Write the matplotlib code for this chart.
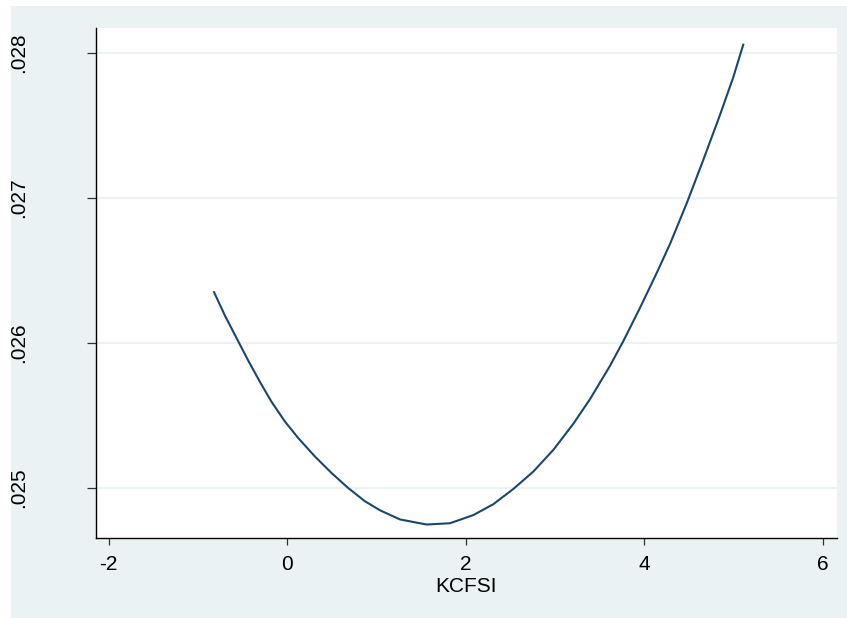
import matplotlib
matplotlib.use("Agg")
import matplotlib.pyplot as plt
from matplotlib.patches import Rectangle

# values
kcfsi = [-0.820, -0.697, -0.548, -0.436, -0.305, -0.174, -0.025, 0.124, 0.311,
         0.499, 0.685, 0.872, 1.040, 1.264, 1.563, 1.824, 2.085, 2.309, 2.533,
         2.757, 2.982, 3.206, 3.393, 3.617, 3.766, 3.953, 4.140, 4.289, 4.476,
         4.662, 4.849, 4.998, 5.110]
fitted = [0.026348, 0.026185, 0.026008, 0.025875, 0.025728, 0.025590, 0.025455,
          0.025341, 0.025214, 0.025099, 0.024996, 0.024905, 0.024843, 0.024780,
          0.024745, 0.024754, 0.024810, 0.024885, 0.024990, 0.025110, 0.025260,
          0.025440, 0.025610, 0.025840, 0.026010, 0.026240, 0.026480, 0.026680,
          0.026960, 0.027260, 0.027570, 0.027830, 0.028055]

xticks = [-2, 0, 2, 4, 6]
yticks = [0.025, 0.026, 0.027, 0.028]
ylabels = [".025", ".026", ".027", ".028"]

plt.rcParams['font.family'] = ['Liberation Sans', 'DejaVu Sans']
plt.rcParams['axes.unicode_minus'] = False

bg = "#EAF2F3"
fig = plt.figure(figsize=(8.47, 6.18), dpi=100)
fig.patches.append(Rectangle((11/847, 0), 1 - 11/847, 1 - 6/618,
                             transform=fig.transFigure, facecolor=bg,
                             edgecolor="none", zorder=-10))

ax = fig.add_axes([95.7/847, 1 - 538.3/618, (836.7 - 95.7)/847, (538.3 - 28)/618])
ax.set_facecolor("white")

ax.plot(kcfsi, fitted, color="#1a476f", lw=1.5, solid_joinstyle="round", zorder=3)

ax.set_xlim(-2.146, 6.157)
ax.set_ylim(0.02465, 0.02817)
ax.set_xticks(xticks)
ax.set_yticks(yticks)
ax.set_yticklabels(ylabels, rotation=90, va="center")
ax.yaxis.grid(True, color=bg, lw=1.5)
ax.set_axisbelow(True)

for s in ["top", "right"]:
    ax.spines[s].set_visible(False)
for s in ["left", "bottom"]:
    ax.spines[s].set_color("black")
    ax.spines[s].set_linewidth(1.0)

ax.tick_params(axis="x", length=5, width=0.9, color="#333333", labelsize=15, pad=7)
ax.tick_params(axis="y", length=6.5, width=0.9, color="#333333", labelsize=15, pad=42)
ax.set_xlabel("KCFSI", fontsize=15, labelpad=2)

fig.savefig("out.png", dpi=100, facecolor="white")
